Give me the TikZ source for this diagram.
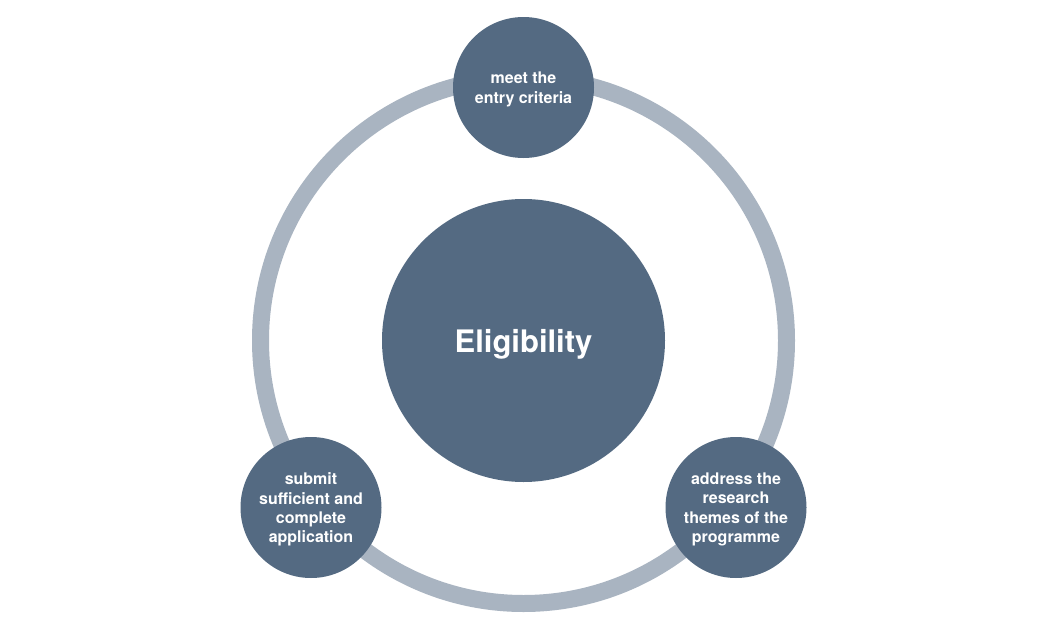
\documentclass[tikz,border=0pt]{standalone}
\usepackage{fontspec}
\setmainfont{TeX Gyre Heros}
\definecolor{slate}{HTML}{546A82}
\definecolor{ringgrey}{HTML}{A9B4C1}
\begin{document}
\begin{tikzpicture}[x=1pt,y=-1pt,
  smallc/.style={circle,fill=slate,minimum size=141pt,inner sep=0pt,text=white,align=center,
    font=\fontsize{16pt}{19.3pt}\selectfont\bfseries},
  bigc/.style={circle,fill=slate,minimum size=283pt,inner sep=0pt,text=white,
    font=\fontsize{31pt}{36pt}\selectfont\bfseries},
  ringline/.style={draw=ringgrey,line width=17pt}]
\useasboundingbox (0,0) rectangle (1045,637);
\fill[white] (0,0) rectangle (1045,637);
\coordinate (ctr) at (523.5,340.5);
\draw[ringline] (ctr) circle[radius=263pt];
\node[bigc] (elig) at (ctr) {};
\node[text=white,font=\fontsize{31pt}{36pt}\selectfont\bfseries] (eligtxt) at ([yshift=-4pt]elig.center) {Eligibility};
\node[smallc] (top) at (523.5,87.5) {};
\node[smallc] (left) at (311,507.5) {};
\node[smallc] (right) at (736,507.5) {};
\node[smallc,fill=none,minimum size=0pt] (toptxt) at ([yshift=-2pt]top.center) {meet the\\entry criteria};
\node[smallc,fill=none,minimum size=0pt] (lefttxt) at ([yshift=-2pt]left.center) {submit\\sufficient and\\complete\\application};
\node[smallc,fill=none,minimum size=0pt] (righttxt) at ([yshift=-2pt]right.center) {address the\\research\\themes of the\\programme};
\end{tikzpicture}
\end{document}
